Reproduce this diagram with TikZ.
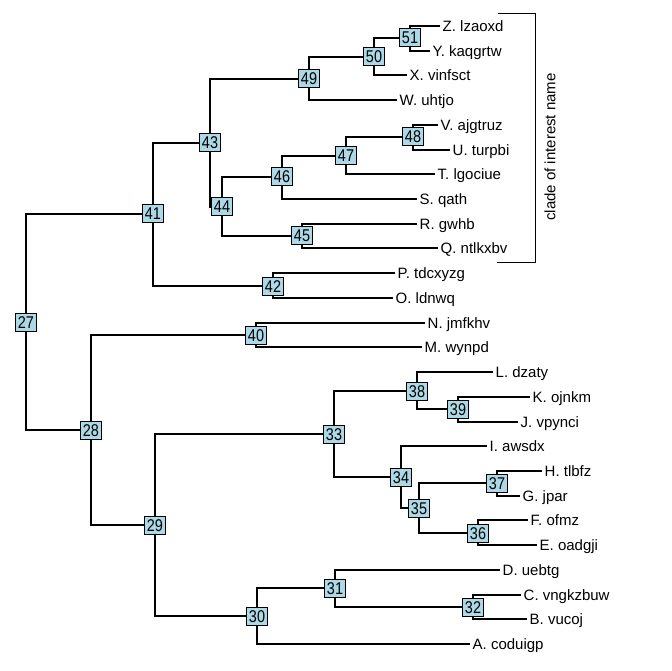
\documentclass[tikz,border=0pt]{standalone}
\usepackage{fontspec}
\setmainfont{Liberation Sans}
\newfontfamily\nodenumfont[FakeStretch=0.85]{Liberation Sans}
\definecolor{boxblue}{HTML}{ADD8E6}
\begin{document}
\begin{tikzpicture}[x=1pt,y=-1pt,
  edge/.style={line width=2pt, line join=miter},
  nlab/.style={draw=black, line width=1pt, fill=boxblue, font=\nodenumfont\fontsize{17}{17}\selectfont,
    inner sep=0pt, minimum width=21pt, minimum height=18pt, text height=12pt, text depth=0pt},
  tlab/.style={anchor=west, font=\fontsize{15}{15}\selectfont, inner xsep=2.5pt, inner ysep=0pt,
    text height=10.7pt, text depth=0pt}]
\useasboundingbox (0,0) rectangle (672,671);
% internal node positions
\coordinate (n27) at (26,322);
\coordinate (n28) at (91,430);
\coordinate (n29) at (155,525);
\coordinate (n30) at (257,616);
\coordinate (n31) at (335,588);
\coordinate (n32) at (473,607);
\coordinate (n33) at (334,434);
\coordinate (n34) at (401,477);
\coordinate (n35) at (419,508);
\coordinate (n36) at (478,533);
\coordinate (n37) at (497,483);
\coordinate (n38) at (417,391);
\coordinate (n39) at (458,409);
\coordinate (n40) at (256,335);
\coordinate (n41) at (153,214);
\coordinate (n42) at (273,286);
\coordinate (n43) at (210,143);
\coordinate (n44) at (222,207);
\coordinate (n45) at (302,236);
\coordinate (n46) at (282,177);
\coordinate (n47) at (346,156);
\coordinate (n48) at (413,137);
\coordinate (n49) at (309,79);
\coordinate (n50) at (374,57);
\coordinate (n51) at (410,38);
% tip positions
\coordinate (tA) at (470,644);
\coordinate (tB) at (527,619);
\coordinate (tC) at (521,595);
\coordinate (tD) at (500,570);
\coordinate (tE) at (537,545);
\coordinate (tF) at (528,520);
\coordinate (tG) at (520,496);
\coordinate (tH) at (542,471);
\coordinate (tI) at (487,446);
\coordinate (tJ) at (518,422);
\coordinate (tK) at (530,397);
\coordinate (tL) at (493,372);
\coordinate (tM) at (422,347);
\coordinate (tN) at (425,323);
\coordinate (tO) at (393,298);
\coordinate (tP) at (395,273);
\coordinate (tQ) at (438,248);
\coordinate (tR) at (417,224);
\coordinate (tS) at (417,199);
\coordinate (tT) at (435,174);
\coordinate (tU) at (450,150);
\coordinate (tV) at (438,125);
\coordinate (tW) at (397,100);
\coordinate (tX) at (407,75);
\coordinate (tY) at (430,51);
\coordinate (tZ) at (440,26);
% edges
\draw[edge] (n27) |- (n41); \draw[edge] (n27) |- (n28);
\draw[edge] (n41) |- (n43); \draw[edge] (n41) |- (n42);
\draw[edge] (n43) |- (n49); \draw[edge] (n43) |- (n44);
\draw[edge] (n49) |- (n50); \draw[edge] (n49) |- (tW);
\draw[edge] (n50) |- (n51); \draw[edge] (n50) |- (tX);
\draw[edge] (n51) |- (tZ); \draw[edge] (n51) |- (tY);
\draw[edge] (n44) |- (n46); \draw[edge] (n44) |- (n45);
\draw[edge] (n46) |- (n47); \draw[edge] (n46) |- (tS);
\draw[edge] (n47) |- (n48); \draw[edge] (n47) |- (tT);
\draw[edge] (n48) |- (tV); \draw[edge] (n48) |- (tU);
\draw[edge] (n45) |- (tR); \draw[edge] (n45) |- (tQ);
\draw[edge] (n42) |- (tP); \draw[edge] (n42) |- (tO);
\draw[edge] (n28) |- (n40); \draw[edge] (n28) |- (n29);
\draw[edge] (n40) |- (tN); \draw[edge] (n40) |- (tM);
\draw[edge] (n29) |- (n33); \draw[edge] (n29) |- (n30);
\draw[edge] (n33) |- (n38); \draw[edge] (n33) |- (n34);
\draw[edge] (n38) |- (tL); \draw[edge] (n38) |- (n39);
\draw[edge] (n39) |- (tK); \draw[edge] (n39) |- (tJ);
\draw[edge] (n34) |- (tI); \draw[edge] (n34) |- (n35);
\draw[edge] (n35) |- (n37); \draw[edge] (n35) |- (n36);
\draw[edge] (n37) |- (tH); \draw[edge] (n37) |- (tG);
\draw[edge] (n36) |- (tF); \draw[edge] (n36) |- (tE);
\draw[edge] (n30) |- (n31); \draw[edge] (n30) |- (tA);
\draw[edge] (n31) |- (tD); \draw[edge] (n31) |- (n32);
\draw[edge] (n32) |- (tC); \draw[edge] (n32) |- (tB);
% node labels
\foreach \k in {27,...,51} { \node[nlab] (l\k) at (n\k) {\k}; }
% tip labels
\node[tlab] (xA) at (tA) {A. coduigp};
\node[tlab] (xB) at (tB) {B. vucoj};
\node[tlab] (xC) at (tC) {C. vngkzbuw};
\node[tlab] (xD) at (tD) {D. uebtg};
\node[tlab] (xE) at (tE) {E. oadgji};
\node[tlab] (xF) at (tF) {F. ofmz};
\node[tlab] (xG) at (tG) {G. jpar};
\node[tlab] (xH) at (tH) {H. tlbfz};
\node[tlab] (xI) at (tI) {I. awsdx};
\node[tlab] (xJ) at (tJ) {J. vpynci};
\node[tlab] (xK) at (tK) {K. ojnkm};
\node[tlab] (xL) at (tL) {L. dzaty};
\node[tlab] (xM) at (tM) {M. wynpd};
\node[tlab] (xN) at (tN) {N. jmfkhv};
\node[tlab] (xO) at (tO) {O. ldnwq};
\node[tlab] (xP) at (tP) {P. tdcxyzg};
\node[tlab] (xQ) at (tQ) {Q. ntlkxbv};
\node[tlab] (xR) at (tR) {R. gwhb};
\node[tlab] (xS) at (tS) {S. qath};
\node[tlab] (xT) at (tT) {T. lgociue};
\node[tlab] (xU) at (tU) {U. turpbi};
\node[tlab] (xV) at (tV) {V. ajgtruz};
\node[tlab] (xW) at (tW) {W. uhtjo};
\node[tlab] (xX) at (tX) {X. vinfsct};
\node[tlab] (xY) at (tY) {Y. kaqgrtw};
\node[tlab] (xZ) at (tZ) {Z. lzaoxd};
% clade bracket
\coordinate (bt) at (498,13.5);
\coordinate (bb) at (497,262.5);
\draw[line width=1pt] (bt) -- (535.5,13.5) -- (535.5,262.5) -- (bb);
\node[rotate=90, font=\fontsize{15}{15}\selectfont, inner sep=0pt] (clade) at (550,147) {clade of interest name};
\end{tikzpicture}
\end{document}
